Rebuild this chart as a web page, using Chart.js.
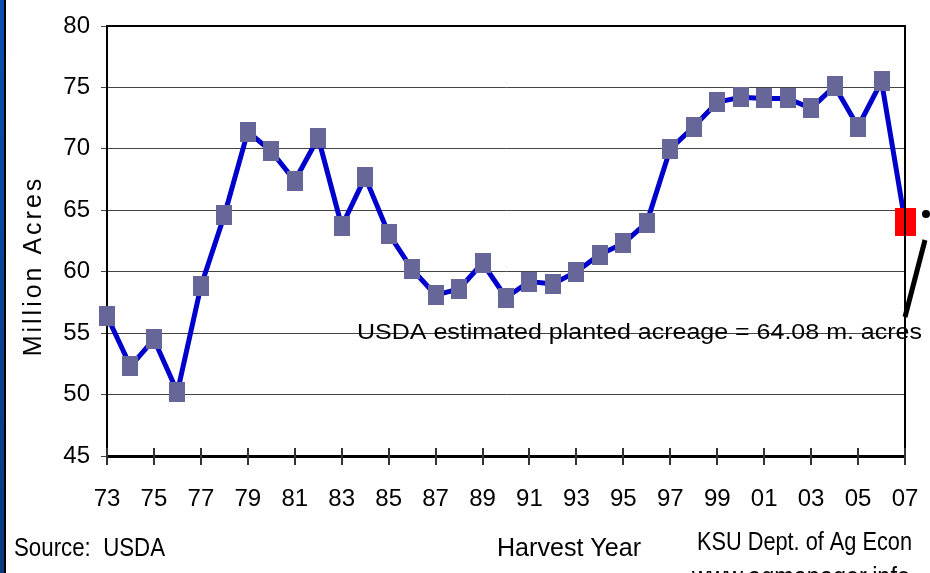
<!DOCTYPE html>
<html>
<head>
<meta charset="utf-8">
<script src="https://cdn.jsdelivr.net/npm/chart.js@4.4.1/dist/chart.umd.min.js"></script>
<style>
  html, body { margin: 0; padding: 0; background: #fff; }
</style>
</head>
<body>
<canvas id="chart" width="930" height="573"></canvas>
<script>
// harvest years 1973 - 2007
const years = ['73','74','75','76','77','78','79','80','81','82','83','84','85','86','87','88','89',
               '90','91','92','93','94','95','96','97','98','99','00','01','02','03','04','05','06','07'];
// million acres planted, 2007 = USDA estimate
const acres = [56.4, 52.3, 54.5, 50.2, 58.8, 64.6, 71.4, 69.8, 67.4, 70.9, 63.7, 67.7, 63.1, 60.2, 58.1, 58.6, 60.7,
               57.9, 59.2, 59.0, 60.0, 61.4, 62.3, 64.0, 70.0, 71.8, 73.8, 74.2, 74.1, 74.1, 73.3, 75.1, 71.8, 75.5, 64.08];
const yTicks = [45, 50, 55, 60, 65, 70, 75, 80];

const FONT = "'Liberation Sans', Arial, sans-serif";

function box(w, h, color) {
    const c = document.createElement('canvas');
    c.width = w; c.height = h;
    const g = c.getContext('2d');
    g.fillStyle = color;
    g.fillRect(0, 0, w, h);
    return c;
}
const markPurple = box(16, 20, '#666699');
const markRed = box(21, 28, '#ff0000');

// draw text squeezed/stretched to a given width
function fitText(ctx, text, x, y, w, font) {
    ctx.save();
    ctx.font = font;
    const nat = ctx.measureText(text).width;
    ctx.translate(x, y);
    ctx.scale(w / nat, 1);
    ctx.textAlign = 'left';
    ctx.textBaseline = 'middle';
    ctx.fillStyle = '#000';
    ctx.fillText(text, 0, 0);
    ctx.restore();
}

const decor = {
    id: 'decor',
    beforeDraw(chart) {
        const ctx = chart.ctx;
        ctx.save();
        ctx.fillStyle = '#fff';
        ctx.fillRect(0, 0, chart.width, chart.height);
        const g = ctx.createLinearGradient(0, 0, 0, chart.height);
        g.addColorStop(0, '#0a4fb0');
        g.addColorStop(1, '#0a3a80');
        ctx.fillStyle = g;
        ctx.fillRect(0, 0, 4, chart.height);
        ctx.fillStyle = '#000';
        ctx.fillRect(4, 0, 2, chart.height);
        ctx.restore();
    },
    afterDatasetsDraw(chart) {
        const ctx = chart.ctx;
        const a = chart.chartArea;
        const xs = chart.scales.x;
        ctx.save();
        // box top / right
        ctx.strokeStyle = '#000';
        ctx.lineWidth = 2;
        ctx.beginPath();
        ctx.moveTo(a.left, a.top);
        ctx.lineTo(a.right, a.top);
        ctx.lineTo(a.right, a.bottom);
        ctx.stroke();
        // x tick marks across the axis
        ctx.strokeStyle = '#333';
        ctx.lineWidth = 2;
        years.forEach((y, i) => {
            if (i % 2) return;
            const px = Math.round(xs.getPixelForValue(i));
            ctx.beginPath();
            ctx.moveTo(px, a.bottom - 8);
            ctx.lineTo(px, a.bottom + 9);
            ctx.stroke();
        });
        ctx.restore();
    },
    afterDraw(chart) {
        const ctx = chart.ctx;
        ctx.save();
        // y axis title
        ctx.translate(34, 266);
        ctx.rotate(-Math.PI / 2);
        ctx.font = '25px ' + FONT;
        ctx.letterSpacing = '3px';
        ctx.textAlign = 'center';
        ctx.textBaseline = 'middle';
        ctx.fillStyle = '#000';
        ctx.fillText('Million Acres', 0, 0);
        ctx.restore();

        fitText(ctx, 'USDA estimated planted acreage = 64.08 m. acres', 357, 333, 565, '22px ' + FONT);
        fitText(ctx, 'Source:  USDA', 14, 549, 151, '25px ' + FONT);
        fitText(ctx, 'Harvest Year', 497, 549, 144, '25px ' + FONT);
        fitText(ctx, 'KSU Dept. of Ag Econ', 697, 543, 215, '25px ' + FONT);
        fitText(ctx, 'www.agmanager.info', 692, 578, 218, '25px ' + FONT);

        // callout line
        ctx.save();
        ctx.strokeStyle = '#000';
        ctx.lineWidth = 5;
        ctx.beginPath();
        ctx.moveTo(905, 317);
        ctx.lineTo(925, 240);
        ctx.stroke();
        ctx.fillStyle = '#000';
        ctx.beginPath();
        ctx.arc(926, 214, 4, 0, Math.PI * 2);
        ctx.fill();
        ctx.restore();
    }
};

new Chart(document.getElementById('chart'), {
    type: 'line',
    data: {
        labels: years,
        datasets: [{
            data: acres,
            borderColor: '#0000cc',
            borderWidth: 5,
            tension: 0,
            clip: false,
            pointStyle: c => c.dataIndex === years.length - 1 ? markRed : markPurple,
            pointRadius: 10,
            pointHoverRadius: 10
        }]
    },
    options: {
        responsive: false,
        animation: false,
        devicePixelRatio: 1,
        layout: { padding: { top: 26, right: 25, left: 0, bottom: 0 } },
        plugins: { legend: { display: false }, tooltip: { enabled: false } },
        scales: {
            x: {
                type: 'category',
                offset: false,
                afterFit: s => { s.height = 117; s.paddingLeft = 0; s.paddingRight = 0; },
                grid: { display: false },
                border: { color: '#000', width: 3 },
                ticks: {
                    autoSkip: false,
                    maxRotation: 0,
                    padding: 21,
                    color: '#000',
                    font: { family: FONT, size: 24 },
                    callback: (v, i) => i % 2 === 0 ? years[i] : ''
                }
            },
            y: {
                min: 45,
                max: 80,
                afterFit: s => { s.width = 107; s.paddingTop = 0; s.paddingBottom = 0; },
                afterBuildTicks: s => { s.ticks = yTicks.map(v => ({ value: v })); },
                grid: { color: '#444', lineWidth: 1, tickLength: 6 },
                border: { color: '#000', width: 2 },
                ticks: {
                    padding: 11,
                    color: '#000',
                    font: { family: FONT, size: 24 }
                }
            }
        }
    },
    plugins: [decor]
});
</script>
</body>
</html>
